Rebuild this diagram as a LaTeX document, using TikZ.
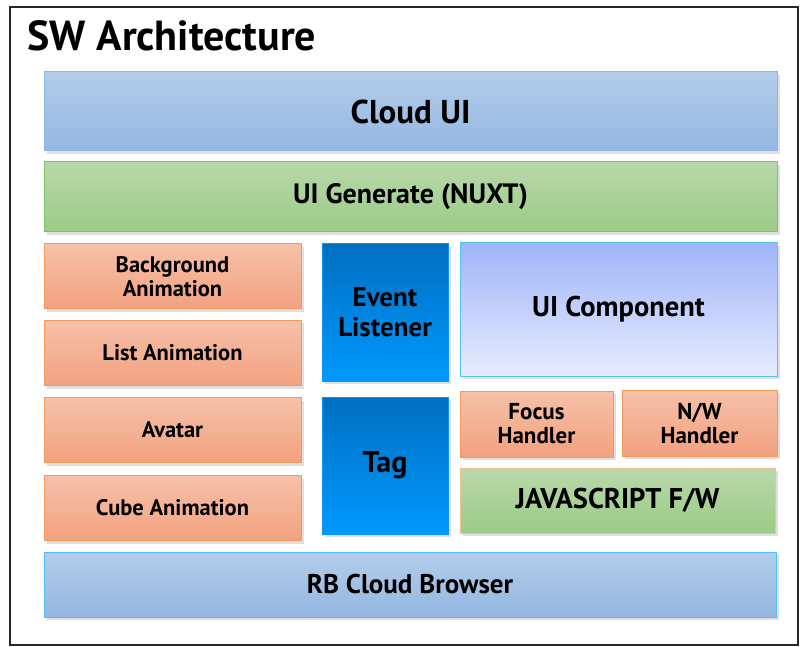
\documentclass[tikz,border=0pt]{standalone}
\usepackage{fontspec}
\setmainfont{PT Sans}
\usetikzlibrary{shadows}
\definecolor{CloudTop}{HTML}{B3CDE9}
\definecolor{CloudBot}{HTML}{94B6E1}
\definecolor{CloudLine}{HTML}{8EB4E3}
\definecolor{GenTop}{HTML}{B8D8AA}
\definecolor{GenBot}{HTML}{9CCB86}
\definecolor{GenLine}{HTML}{82C167}
\definecolor{AniTop}{HTML}{F6C1A9}
\definecolor{AniBot}{HTML}{F2A17F}
\definecolor{AniLine}{HTML}{F5985C}
\definecolor{TagTop}{HTML}{006FC0}
\definecolor{TagBot}{HTML}{0099FF}
\definecolor{TagLine}{HTML}{0A93F0}
\definecolor{CompTop}{HTML}{A0B4F9}
\definecolor{CompBot}{HTML}{E6ECFE}
\definecolor{CompLine}{HTML}{53C4F2}
\definecolor{FwLine}{HTML}{F0C090}
\definecolor{BrowserLine}{HTML}{4CC0F0}

\begin{document}
\begin{tikzpicture}[x=1pt,y=-1pt,
    layer/.style={draw, line width=1pt, inner sep=0pt, align=center,
      font=\bfseries\fontsize{27}{29}\selectfont,
      drop shadow={shadow xshift=3pt, shadow yshift=-3pt, opacity=0.25}},
    cloudbox/.style={layer, draw=CloudLine, top color=CloudTop, bottom color=CloudBot},
    genbox/.style={layer, draw=GenLine, top color=GenTop, bottom color=GenBot},
    anibox/.style={layer, draw=AniLine, top color=AniTop, bottom color=AniBot,
      minimum width=257pt, minimum height=65pt, font=\bfseries\fontsize{22.5}{24}\selectfont},
    tagbox/.style={layer, draw=TagLine, top color=TagTop, bottom color=TagBot,
      minimum width=126pt, minimum height=137pt, font=\bfseries\fontsize{27}{30}\selectfont},
    compbox/.style={layer, draw=CompLine, top color=CompTop, bottom color=CompBot}]
  \useasboundingbox (0,0) rectangle (804,647);
  \draw[line width=2pt, draw=black!85] (10,7) rectangle (798,645);
  \node[anchor=base west, font=\bfseries\fontsize{42}{44}\selectfont] (title) at (24,51) {SW Architecture};

  \node[cloudbox, minimum width=733pt, minimum height=79pt, font=\bfseries\fontsize{33}{35}\selectfont] (cloudui) at (410.5,111.5) {Cloud UI};
  \node[genbox, minimum width=733pt, minimum height=70pt, font=\bfseries\fontsize{28}{30}\selectfont] (generate) at (410.5,197) {UI Generate (NUXT)};

  \node[anibox] (background) at (172.5,276.5) {Background\\Animation};
  \node[anibox] (list) at (172.5,353) {List Animation};
  \node[anibox] (avatar) at (172.5,430) {Avatar};
  \node[anibox] (cube) at (172.5,508) {Cube Animation};

  \node[tagbox] (event) at (385,312.5) {Event\\Listener};
  \node[tagbox, font=\bfseries\fontsize{30}{32}\selectfont] (tag) at (385,465.5) {Tag};

  \node[compbox, minimum width=317pt, minimum height=133pt, font=\bfseries\fontsize{28.5}{30}\selectfont] (component) at (618.5,309.5) {UI Component};
  \node[anibox, minimum width=153pt, minimum height=66pt, font=\bfseries\fontsize{23}{24}\selectfont] (focus) at (536.5,424) {Focus\\Handler};
  \node[anibox, minimum width=155pt, minimum height=66pt, font=\bfseries\fontsize{23}{24}\selectfont] (network) at (699.5,423) {N/W\\Handler};
  \node[genbox, draw=FwLine, minimum width=315pt, minimum height=65pt, font=\bfseries\fontsize{28.5}{30}\selectfont] (framework) at (617.5,500.5) {JAVASCRIPT F/W};

  \node[cloudbox, draw=BrowserLine, minimum width=732pt, minimum height=65pt] (browser) at (410,584.5) {RB Cloud Browser};
\end{tikzpicture}
\end{document}
